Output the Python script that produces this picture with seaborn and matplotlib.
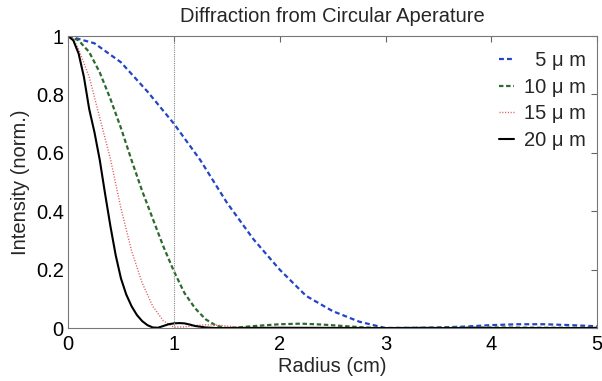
import matplotlib
matplotlib.use("Agg")
import matplotlib.pyplot as plt
import seaborn as sns
import pandas as pd

# ---- data ----
r_5um = [0.0, 0.25, 0.5, 0.75, 1.0, 1.25, 1.5, 1.75, 2.0, 2.25, 2.5, 2.75, 3.0,
         3.25, 3.5, 3.75, 4.0, 4.25, 4.5, 4.75, 5.0]
i_5um = [1.0, 0.975, 0.91, 0.81, 0.70, 0.575, 0.43, 0.305, 0.20, 0.11, 0.058,
         0.022, 0.0, 0.001, 0.002, 0.005, 0.010, 0.013, 0.013, 0.010, 0.006]

r_10um = [0.0, 0.1, 0.2, 0.3, 0.4, 0.5, 0.6, 0.7, 0.8, 0.9, 1.0, 1.1, 1.2, 1.3,
          1.4, 1.5, 1.6, 1.8, 2.0, 2.2, 2.4, 2.6, 2.8, 3.0, 3.5, 4.0, 4.5, 5.0]
i_10um = [1.0, 0.985, 0.945, 0.875, 0.785, 0.685, 0.575, 0.47, 0.375, 0.28,
          0.195, 0.12, 0.068, 0.03, 0.008, 0.0, 0.002, 0.008, 0.013, 0.015,
          0.012, 0.007, 0.002, 0.0, 0.001, 0.002, 0.001, 0.001]

r_15um = [0.0, 0.05, 0.1, 0.2, 0.3, 0.4, 0.5, 0.6, 0.7, 0.8, 0.9, 1.0, 1.1,
          1.2, 1.3, 1.4, 1.5, 1.6, 1.8, 2.0, 2.5, 3.0, 4.0, 5.0]
i_15um = [1.0, 0.99, 0.955, 0.86, 0.72, 0.58, 0.41, 0.265, 0.155, 0.075,
          0.025, 0.003, 0.004, 0.009, 0.011, 0.010, 0.007, 0.003, 0.0, 0.001,
          0.001, 0.0, 0.0, 0.0]

r_20um = [0.0, 0.05, 0.1, 0.15, 0.2, 0.25, 0.3, 0.35, 0.4, 0.45, 0.5, 0.55,
          0.6, 0.65, 0.7, 0.75, 0.8, 0.85, 0.9, 0.95, 1.0, 1.05, 1.1, 1.15,
          1.2, 1.3, 1.4, 2.0, 3.0, 4.0, 5.0]
i_20um = [1.0, 0.985, 0.94, 0.86, 0.75, 0.67, 0.575, 0.46, 0.35, 0.25, 0.17,
          0.115, 0.075, 0.045, 0.024, 0.01, 0.002, 0.001, 0.007, 0.013, 0.016,
          0.017, 0.016, 0.012, 0.007, 0.002, 0.0, 0.001, 0.0, 0.0, 0.0]

labels = ["  5 μ m", "10 μ m", "15 μ m", "20 μ m"]
x_ticks = [0, 1, 2, 3, 4, 5]
y_ticks = [0, 0.2, 0.4, 0.6, 0.8, 1]
y_tick_labels = ["0", "0.2", "0.4", "0.6", "0.8", "1"]
marker_radius = 1.0

sns.set_style("white")
plt.rcParams["font.family"] = ["Liberation Sans", "DejaVu Sans"]

FS = 14.5
fig = plt.figure(figsize=(6.02, 3.81), dpi=100)
ax = fig.add_axes([0.113, 0.139, 0.879, 0.7665])

series = [
    (r_5um, i_5um, labels[0], "#2244c8", (0, (2.2, 1.4)), 1.6),
    (r_10um, i_10um, labels[1], "#2d6a2d", (0, (2.0, 1.2)), 1.6),
    (r_15um, i_15um, labels[2], "#e05a5a", (0, (0.8, 1.2)), 1.0),
    (r_20um, i_20um, labels[3], "#000000", "-", 1.5),
]
for r, i, lab, col, ls, lw in series:
    df = pd.DataFrame({"Radius": r, "Intensity": i})
    sns.lineplot(data=df, x="Radius", y="Intensity", ax=ax, color=col,
                 linestyle=ls, linewidth=lw, label=lab)

ax.axvline(marker_radius, color="#888888", linestyle=(0, (1, 1)), linewidth=0.8)

ax.set_xlim(0, 5)
ax.set_ylim(0, 1)
ax.set_xticks(x_ticks)
ax.set_xticklabels([str(t) for t in x_ticks])
ax.set_yticks(y_ticks)
ax.set_yticklabels(y_tick_labels)
ax.tick_params(direction="in", length=4, width=0.8, top=True, right=True,
               labelsize=FS, colors="#666666", labelcolor="black")
ax.tick_params(axis="x", pad=5)
ax.tick_params(axis="y", pad=3)
for s in ax.spines.values():
    s.set_color("#777777")
    s.set_linewidth(0.8)

ax.set_xlabel("Radius (cm)", fontsize=FS, labelpad=2)
ax.set_ylabel("Intensity (norm.)", fontsize=FS, labelpad=4)
ax.set_title("Diffraction from Circular Aperature", fontsize=FS, pad=10)

leg = ax.legend(loc="upper right", bbox_to_anchor=(1.008, 1.0), frameon=False,
                fontsize=FS, handlelength=0.75, handletextpad=0.5,
                labelspacing=0.38, borderaxespad=0.35)

fig.savefig("out.png", dpi=100)
